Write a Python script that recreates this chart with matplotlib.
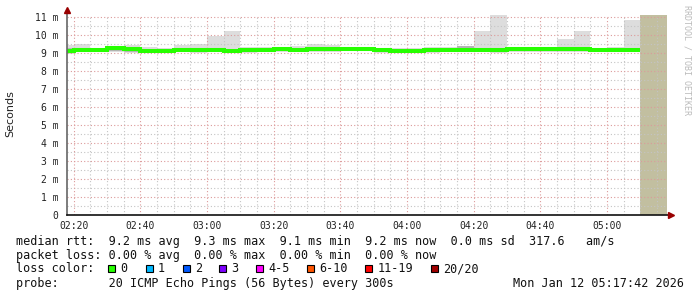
import matplotlib
matplotlib.use("Agg")
import matplotlib.pyplot as plt
from matplotlib.patches import Rectangle
from matplotlib.lines import Line2D
import numpy as np

W, H = 697, 297

# ---- data (minutes since midnight; 5-minute bins) ----
bin_starts = [135, 140, 145, 150, 155, 160, 165, 170, 175, 180, 185, 190, 195, 200, 205,
              210, 215, 220, 225, 230, 235, 240, 245, 250, 255, 260, 265, 270, 275, 280,
              285, 290, 295, 300, 305]
bin_width = 5
median = [9.15, 9.18, 9.18, 9.27, 9.25, 9.14, 9.15, 9.2, 9.16, 9.2, 9.15, 9.2, 9.2, 9.23, 9.2,
          9.22, 9.25, 9.23, 9.22, 9.16, 9.12, 9.15, 9.2, 9.2, 9.2, 9.2, 9.2, 9.25, 9.25, 9.25,
          9.25, 9.25, 9.18, 9.18, 9.18]
smoke_hi = [9.44, 9.53, 9.3, 9.4, 9.48, 9.33, 9.31, 9.44, 9.53, 9.96, 10.22, 9.37, 9.35, 9.35, 9.38,
            9.51, 9.46, 9.35, 9.3, 9.3, 9.31, 9.3, 9.35, 9.35, 9.4, 10.22, 11.17, 9.35, 9.35, 9.33,
            9.78, 10.22, 9.3, 9.35, 10.84]
smoke_lo = [8.94, 9.05, 9.05, 9.08, 9.03, 9.05, 9.05, 9.05, 9.02, 9.05, 9.05, 9.03, 9.05, 9.05, 9.05,
            9.05, 9.05, 9.1, 9.1, 9.02, 9.0, 9.05, 9.0, 9.05, 9.1, 9.05, 9.03, 9.05, 9.05, 9.05,
            9.05, 9.05, 9.05, 9.05, 9.05]
inner_hi = [9.3, 9.28, 9.25, 9.33, 9.33, 9.25, 9.25, 9.3, 9.3, 9.3, 9.25, 9.3, 9.3, 9.3, 9.3,
            9.33, 9.35, 9.32, 9.3, 9.25, 9.22, 9.25, 9.3, 9.3, 9.38, 9.3, 9.3, 9.32, 9.32, 9.32,
            9.32, 9.32, 9.25, 9.25, 9.25]
inner_lo = [9.0, 9.1, 9.08, 9.12, 9.05, 9.08, 9.08, 9.1, 9.08, 9.1, 9.08, 9.05, 9.1, 9.1, 9.05,
            9.1, 9.1, 9.15, 9.12, 9.05, 9.05, 9.08, 9.05, 9.1, 9.12, 9.1, 9.05, 9.12, 9.12, 9.12,
            9.12, 9.12, 9.05, 9.05, 9.05]
unknown_start, unknown_end = 310, 318
x_min, x_max = 138, 318
y_max = 11.15

xtick_vals = [140, 160, 180, 200, 220, 240, 260, 280, 300]
xtick_labels = ["02:20", "02:40", "03:00", "03:20", "03:40", "04:00", "04:20", "04:40", "05:00"]
ytick_vals = list(range(0, 12))
ytick_labels = ["0"] + [f"{v} m" for v in range(1, 12)]

loss_labels = ["0", "1", "2", "3", "4-5", "6-10", "11-19", "20/20"]
loss_colors = ["#26ff00", "#00b8ff", "#0059ff", "#7e00ff", "#ff00ff", "#ff5500", "#ff0000", "#a00000"]
loss_box_x = [108, 145.5, 182.5, 219, 256, 306.5, 365, 430.5]

line1 = "median rtt:  9.2 ms avg  9.3 ms max  9.1 ms min  9.2 ms now  0.0 ms sd  317.6   am/s"
line2 = "packet loss: 0.00 % avg  0.00 % max  0.00 % min  0.00 % now"
line3 = "loss color:"
line4 = "probe:       20 ICMP Echo Pings (56 Bytes) every 300s"
date_txt = "Mon Jan 12 05:17:42 2026"

# ---- figure ----
fig = plt.figure(figsize=(W / 100, H / 100), dpi=100)
fig.patch.set_facecolor("white")
ax_left, ax_right = 67, 667
ax_bottom, ax_top = 215, 14.6
ax = fig.add_axes([ax_left / W, 1 - ax_bottom / H, (ax_right - ax_left) / W, (ax_bottom - ax_top) / H])
ax.set_xlim(x_min, x_max)
ax.set_ylim(0, y_max)
ax.set_facecolor("white")

edges = list(bin_starts) + [bin_starts[-1] + bin_width]
ax.stairs(smoke_hi, edges, baseline=smoke_lo, fill=True, color="#dddddd", lw=0, zorder=1)
ax.stairs(inner_hi, edges, baseline=inner_lo, fill=True, color="#b4b4b4", lw=0, zorder=1.1)
ax.axvspan(unknown_start, unknown_end, color="#c2bfa0", lw=0, zorder=1.2)

# grid (drawn over the smoke, as rrdtool does)
dot = (0, (1, 2))
for v in np.arange(0.5, y_max, 1.0):
    ax.axhline(v, color="#c4c4c4", lw=0.8, ls=dot, zorder=2)
for v in range(1, 12):
    ax.axhline(v, color="#dc9a9a", lw=0.8, ls=dot, zorder=2.1)
for v in range(140, 318, 5):
    if v % 20 == 0:
        ax.axvline(v, color="#dc9a9a", lw=0.8, ls=dot, zorder=2.1)
    else:
        ax.axvline(v, color="#c4c4c4", lw=0.8, ls=dot, zorder=2)

ax.stairs(median, edges, baseline=None, color="#26ff00", lw=2.9, zorder=3)

for s in ax.spines.values():
    s.set_visible(False)

ax.set_xticks(xtick_vals)
ax.set_xticklabels(xtick_labels, family="DejaVu Sans Mono", fontsize=7, color="#222222")
ax.set_yticks(ytick_vals)
ax.set_yticklabels(ytick_labels, family="DejaVu Sans Mono", fontsize=7, color="#222222")
ax.tick_params(axis="both", length=0)
ax.tick_params(axis="y", pad=6)
ax.tick_params(axis="x", pad=4)

# axes lines with arrows
tr = fig.transFigure
def fx(px):
    return px / W
def fy(py):
    return 1 - py / H
fig.add_artist(Line2D([fx(67), fx(67)], [fy(215), fy(10)], color="#666666", lw=1.2, transform=tr))
fig.add_artist(Line2D([fx(67), fx(670)], [fy(215), fy(215)], color="#111111", lw=1.2, transform=tr))
fig.add_artist(Line2D([fx(67)], [fy(9.5)], marker="^", markersize=4, color="#990000", lw=0, transform=tr))
fig.add_artist(Line2D([fx(671)], [fy(215)], marker=">", markersize=4, color="#990000", lw=0, transform=tr))

# labels
fig.text(fx(10), fy(114), "Seconds", rotation=90, ha="center", va="center",
         family="DejaVu Sans", fontsize=8, color="#222222")
fig.text(fx(687), fy(5), "RRDTOOL / TOBI OETIKER", rotation=-90, ha="center", va="top",
         family="DejaVu Sans Mono", fontsize=6, color="#bbbbbb")

mono = dict(family="DejaVu Sans Mono", fontsize=8.5, color="#111111", va="center", ha="left")
fig.text(fx(16), fy(241), line1, **mono)
fig.text(fx(16), fy(255.5), line2, **mono)
fig.text(fx(16), fy(268.5), line3, **mono)
fig.text(fx(16), fy(283.5), line4, **mono)
fig.text(fx(513), fy(283.5), date_txt, **mono)

for bx, lab, col in zip(loss_box_x, loss_labels, loss_colors):
    fig.add_artist(Rectangle((fx(bx), fy(272)), 7.3 / W, 7.3 / H, transform=tr,
                             facecolor=col, edgecolor="#000000", lw=0.8))
    fig.text(fx(bx + 12.5), fy(268.5), lab, **mono)

fig.savefig("out.png", dpi=100, facecolor="white")
